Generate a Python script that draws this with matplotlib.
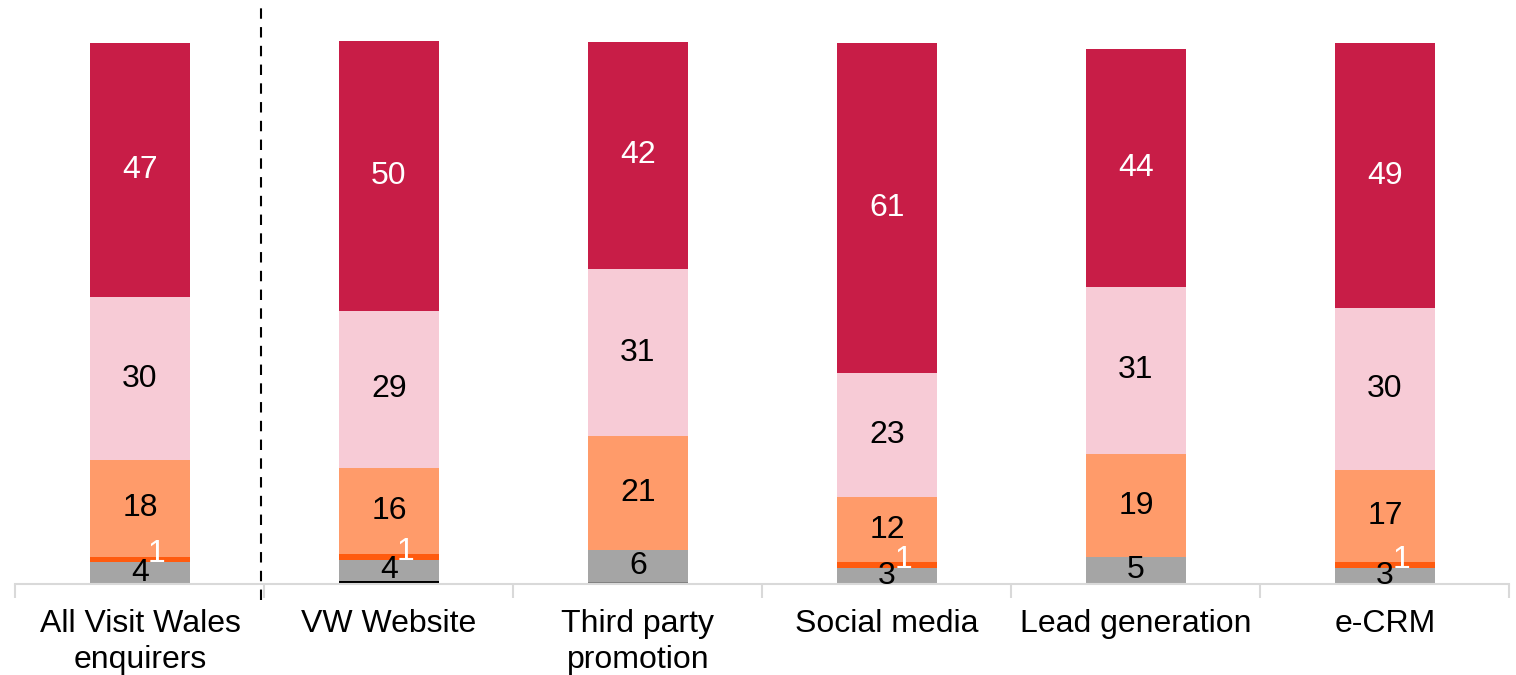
"""
Stacked bars of enquirer responses by source channel.
"""

import matplotlib.pyplot as plt
import numpy as np

plt.rcParams['font.family'] = ['Liberation Sans', 'DejaVu Sans']

categories = ['All Visit Wales\nenquirers', 'VW Website', 'Third party\npromotion',
              'Social media', 'Lead generation', 'e-CRM']

# segments, listed from the bottom of each bar upwards
black_part = [0, 0.5, 0, 0, 0, 0]
dark_grey_part = [0, 0, 0.3, 0, 0, 0]
grey_part = [4, 4, 6, 3, 5, 3]
dark_orange_part = [1, 1, 0, 1, 0, 1]
orange_part = [18, 16, 21, 12, 19, 17]
pink_part = [30, 29, 31, 23, 31, 30]
crimson_part = [47, 50, 42, 61, 44, 49]

fig = plt.figure(figsize=(15.16, 6.75), dpi=100)
ax = fig.add_axes([0.0102, 0.1348, 0.9855, 0.8652])

x = np.arange(len(categories))
width = 0.4
bottom = np.zeros(len(categories))
font_size = 23

# --- draw the stack
layers = [
    (black_part, '#000000', None),
    (dark_grey_part, '#7F7F7F', None),
    (grey_part, '#A5A5A5', 'black'),
    (dark_orange_part, '#FF5B0F', 'white'),
    (orange_part, '#FF9B6A', 'black'),
    (pink_part, '#F7CBD6', 'black'),
    (crimson_part, '#C81D47', 'white'),
]
for values, colour, text_colour in layers:
    values = np.array(values, dtype=float)
    ax.bar(x, values, width, bottom=bottom, color=colour, linewidth=0)
    if text_colour is not None:
        for i, v in enumerate(values):
            if v <= 0:
                continue
            if text_colour == 'white' and v < 2:
                # thin slices get their label nudged beside the line
                ax.text(x[i] + 0.065, bottom[i] + v / 2 + 1, f'{v:g}',
                        ha='center', va='center', fontsize=font_size, color='white')
            else:
                ax.text(x[i], bottom[i] + v / 2, f'{v:g}',
                        ha='center', va='center', fontsize=font_size, color=text_colour)
    bottom += values

# --- divider between the overall figure and the channels
ax.plot([0.486, 0.486], [-3, 107], color='black', linewidth=1.5,
        linestyle=(0, (5, 4)), clip_on=False)

ax.set_xlim(-0.5, len(categories) - 0.5)
ax.set_ylim(0, 108)
ax.set_xticks(x)
ax.set_xticklabels(categories, fontsize=font_size, linespacing=1.25)
ax.set_xticks(np.arange(-0.5, len(categories)), minor=True)
ax.tick_params(axis='x', which='major', length=0, pad=18)
ax.tick_params(axis='x', which='minor', length=10, color='#D9D9D9', width=1.5)
ax.set_yticks([])
for side in ['top', 'right', 'left']:
    ax.spines[side].set_visible(False)
ax.spines['bottom'].set_color('#D9D9D9')
ax.spines['bottom'].set_linewidth(1.5)

plt.savefig('out.png', dpi=100)
